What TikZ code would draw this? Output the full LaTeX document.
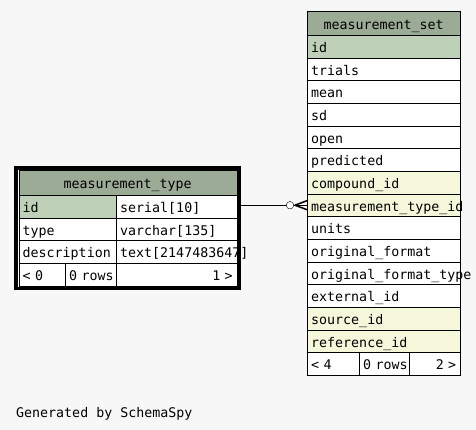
\documentclass[tikz,border=0pt]{standalone}
\usepackage{fontspec}
\newfontfamily\dbfont[HyphenChar=None]{DejaVu Sans Mono}
\usetikzlibrary{calc,positioning,fit}
\definecolor{headgray}{HTML}{9BAB96}
\definecolor{keygreen}{HTML}{BED1B8}
\definecolor{fkyellow}{HTML}{F4F7DA}
\definecolor{canvas}{HTML}{F7F7F7}

\begin{document}
\begin{tikzpicture}[x=1pt, y=-1pt, cell/.style={draw,fill=white,anchor=north west,inner xsep=4pt,inner ysep=0pt,minimum height=22.67,text height=12,text depth=0,align=left,font=\dbfont\fontsize{13.3}{15}\selectfont},
                    head/.style={cell,fill=headgray,minimum height=24.5,align=center},
                    pk/.style={fill=keygreen}, fk/.style={fill=fkyellow},
                    ms/.style={cell,text width=145}, right/.style={align=right}]
                      \fill[canvas] (0,0) rectangle (476,430);
                      \useasboundingbox (0,0) rectangle (476,430);

                      \node[head,text width=145] (mshead) at (307,11) {measurement\_set};
                      \node[ms,pk] (msid) at (307,35) {id};
                      \node[ms] (mstrials) at (307,57.67) {trials};
                      \node[ms] (msmean) at (307,80.33) {mean};
                      \node[ms] (mssd) at (307,103) {sd};
                      \node[ms] (msopen) at (307,125.67) {open};
                      \node[ms] (mspred) at (307,148.33) {predicted};
                      \node[ms,fk] (mscomp) at (307,171) {compound\_id};
                      \node[ms,fk] (msmtid) at (307,193.67) {measurement\_type\_id};
                      \node[ms] (msunits) at (307,216.33) {units};
                      \node[ms] (msfmt) at (307,239) {original\_format};
                      \node[ms] (msfmttype) at (307,261.67) {original\_format\_type};
                      \node[ms] (msext) at (307,284.33) {external\_id};
                      \node[ms,fk] (mssrc) at (307,307) {source\_id};
                      \node[ms,fk] (msref) at (307,329.67) {reference\_id};
                      \node[cell,text width=44] (msfoot1) at (307,352.33) {<~4};
                      \node[cell,text width=42] (msfoot2) at (359,352.33) {0~rows};
                      \node[cell,right,text width=43] (msfoot3) at (409,352.33) {2~>};

                      \fill[white] (13.5,166) rectangle (240,288);
                      \node[head,text width=210] (mthead) at (18.5,170.5) {measurement\_type};
                      \node[cell,pk,text width=89.5] (mtid) at (18.5,195) {id};
                      \node[cell,text width=112.5] (mtidtype) at (116,195) {serial[10]};
                      \node[cell,text width=89.5] (mttype) at (18.5,217.67) {type};
                      \node[cell,text width=112.5] (mttypetype) at (116,217.67) {varchar[135]};
                      \node[cell,text width=89.5] (mtdesc) at (18.5,240.33) {description};
                      \node[cell,text width=112.5] (mtdesctype) at (116,240.33) {text[2147483647]};
                      \node[cell,text width=38.5] (mtfoot1) at (18.5,263) {<~0};
                      \node[cell,text width=43] (mtfoot2) at (65,263) {0~rows};
                      \node[cell,right,text width=112.5] (mtfoot3) at (116,263) {1~>};
                      \node[draw,line width=3.5,inner sep=2.5pt,fit=(mthead) (mtfoot3)] (mtbox) {};

                      \draw (mtbox.east |- msmtid.west) -- (msmtid.west);
                      \node[circle,draw,fill=white,inner sep=0pt,minimum size=7.5] (ring) at ($(msmtid.west)+(-17,0)$) {};
                      \draw[line width=1.5] ($(msmtid.west)+(-12,0)$) -- ($(msmtid.west)+(0,-4.5)$);
                      \draw[line width=1.5] ($(msmtid.west)+(-12,0)$) -- ($(msmtid.west)+(0,4.5)$);

                      \node[anchor=base west,inner sep=0pt,font=\dbfont\fontsize{13.3}{15}\selectfont] (credit) at (16,417) {Generated by SchemaSpy};
                    \end{tikzpicture}
\end{document}
